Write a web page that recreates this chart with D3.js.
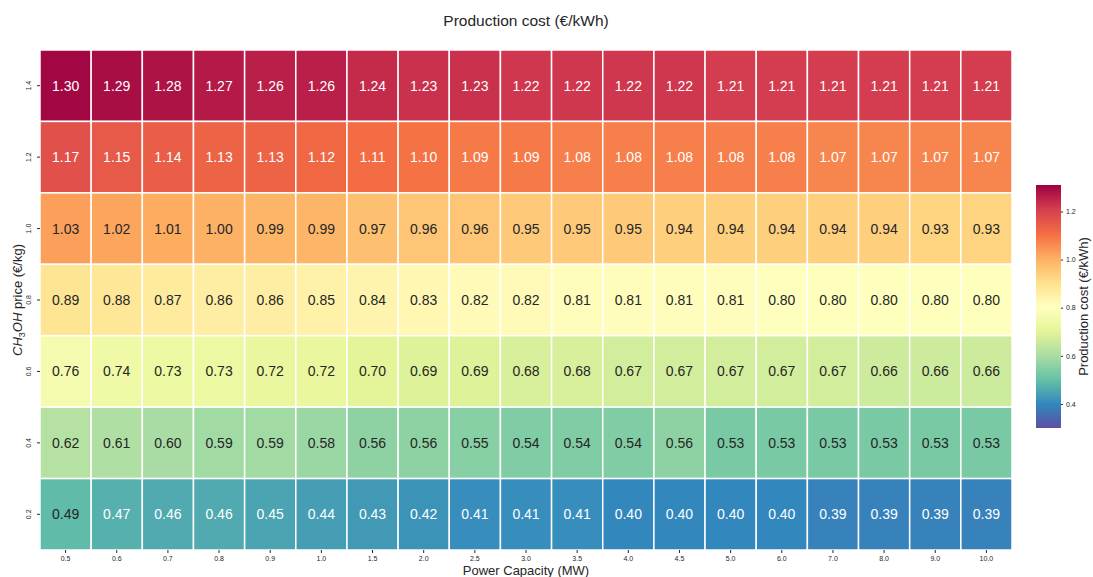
<!DOCTYPE html>
<html>
<head>
<meta charset="utf-8">
<script src="https://cdn.jsdelivr.net/npm/d3@7"></script>
<style>
  body { margin: 0; background: #fff; }
  svg { font-family: "Liberation Sans", Arial, sans-serif; }
</style>
</head>
<body>
<div id="chart"></div>
<script>
// Power capacity (MW) on x, methanol price (€/kg) on y (top row first)
const capacities = ["0.5", "0.6", "0.7", "0.8", "0.9", "1.0", "1.5", "2.0", "2.5", "3.0",
    "3.5", "4.0", "4.5", "5.0", "6.0", "7.0", "8.0", "9.0", "10.0"];
const prices = ["1.4", "1.2", "1.0", "0.8", "0.6", "0.4", "0.2"];

const row14 = [1.30, 1.29, 1.28, 1.27, 1.26, 1.26, 1.24, 1.23, 1.23, 1.22, 1.22, 1.22, 1.22, 1.21, 1.21, 1.21, 1.21, 1.21, 1.21];
const row12 = [1.17, 1.15, 1.14, 1.13, 1.13, 1.12, 1.11, 1.10, 1.09, 1.09, 1.08, 1.08, 1.08, 1.08, 1.08, 1.07, 1.07, 1.07, 1.07];
const row10 = [1.03, 1.02, 1.01, 1.00, 0.99, 0.99, 0.97, 0.96, 0.96, 0.95, 0.95, 0.95, 0.94, 0.94, 0.94, 0.94, 0.94, 0.93, 0.93];
const row08 = [0.89, 0.88, 0.87, 0.86, 0.86, 0.85, 0.84, 0.83, 0.82, 0.82, 0.81, 0.81, 0.81, 0.81, 0.80, 0.80, 0.80, 0.80, 0.80];
const row06 = [0.76, 0.74, 0.73, 0.73, 0.72, 0.72, 0.70, 0.69, 0.69, 0.68, 0.68, 0.67, 0.67, 0.67, 0.67, 0.67, 0.66, 0.66, 0.66];
const row04 = [0.62, 0.61, 0.60, 0.59, 0.59, 0.58, 0.56, 0.56, 0.55, 0.54, 0.54, 0.54, 0.56, 0.53, 0.53, 0.53, 0.53, 0.53, 0.53];
const row02 = [0.49, 0.47, 0.46, 0.46, 0.45, 0.44, 0.43, 0.42, 0.41, 0.41, 0.41, 0.40, 0.40, 0.40, 0.40, 0.39, 0.39, 0.39, 0.39];
const rows = [row14, row12, row10, row08, row06, row04, row02];

const colorTicks = [0.4, 0.6, 0.8, 1.0, 1.2];
const vmin = 0.30, vmax = 1.31;

const W = 1093, H = 577;
const m = { left: 40, top: 50, right: 1012, bottom: 550 };

const svg = d3.select("#chart").append("svg")
    .attr("width", W).attr("height", H);

const x = d3.scaleBand().domain(capacities).range([m.left, m.right]);
const y = d3.scaleBand().domain(prices).range([m.top, m.bottom]);

// reversed Spectral, linear between the 11 anchor colours (like matplotlib)
const spectral = d3.schemeSpectral[11].slice().reverse();
const color = d3.scaleLinear()
    .domain(spectral.map((_, i) => vmin + (vmax - vmin) * i / (spectral.length - 1)))
    .range(spectral)
    .interpolate(d3.interpolateRgb)
    .clamp(true);

const cells = [];
rows.forEach((r, i) => r.forEach((v, j) => cells.push({ p: prices[i], c: capacities[j], v })));

function lum(c) {
    const rgb = d3.rgb(c);
    const f = (u) => { u /= 255; return u <= 0.03928 ? u / 12.92 : Math.pow((u + 0.055) / 1.055, 2.4); };
    return 0.2126 * f(rgb.r) + 0.7152 * f(rgb.g) + 0.0722 * f(rgb.b);
}

const g = svg.append("g");
g.selectAll("rect").data(cells).join("rect")
    .attr("x", (d) => x(d.c))
    .attr("y", (d) => y(d.p))
    .attr("width", x.bandwidth())
    .attr("height", y.bandwidth())
    .attr("fill", (d) => color(d.v))
    .attr("stroke", "#fff")
    .attr("stroke-width", 1.5);

g.selectAll("text").data(cells).join("text")
    .attr("x", (d) => x(d.c) + x.bandwidth() / 2)
    .attr("y", (d) => y(d.p) + y.bandwidth() / 2)
    .attr("text-anchor", "middle")
    .attr("dominant-baseline", "central")
    .attr("font-size", 14)
    .attr("fill", (d) => lum(color(d.v)) > 0.408 ? "#262626" : "#ffffff")
    .text((d) => d.v.toFixed(2));

// x axis
const xAxis = svg.append("g").attr("transform", `translate(0,${m.bottom})`)
    .call(d3.axisBottom(x).tickSize(3).tickPadding(3));
xAxis.select(".domain").remove();
xAxis.selectAll("text").attr("font-size", 7).attr("fill", "#262626")
    .attr("font-family", "Liberation Sans, Arial, sans-serif");
xAxis.selectAll("line").attr("stroke", "#262626");

// y axis, labels rotated
const yAxis = svg.append("g").attr("transform", `translate(${m.left},0)`)
    .call(d3.axisLeft(y).tickSize(3).tickPadding(3));
yAxis.select(".domain").remove();
yAxis.selectAll("line").attr("stroke", "#262626");
yAxis.selectAll("text")
    .attr("font-size", 7).attr("fill", "#262626")
    .attr("font-family", "Liberation Sans, Arial, sans-serif")
    .attr("text-anchor", "middle")
    .attr("x", null).attr("dy", null)
    .attr("transform", "translate(-9,0) rotate(-90)");

// titles
svg.append("text")
    .attr("x", (m.left + m.right) / 2).attr("y", 26)
    .attr("text-anchor", "middle").attr("font-size", 15.5).attr("fill", "#262626")
    .text("Production cost (€/kWh)");

svg.append("text")
    .attr("x", (m.left + m.right) / 2).attr("y", 575)
    .attr("text-anchor", "middle").attr("font-size", 13).attr("fill", "#262626")
    .text("Power Capacity (MW)");

const yl = svg.append("text")
    .attr("transform", `translate(22,${(m.top + m.bottom) / 2}) rotate(-90)`)
    .attr("text-anchor", "middle").attr("font-size", 13).attr("fill", "#262626");
yl.append("tspan").attr("font-style", "italic").text("CH");
yl.append("tspan").attr("font-size", 9).attr("dy", 3).text("3");
yl.append("tspan").attr("font-style", "italic").attr("dy", -3).text("OH");
yl.append("tspan").text(" price (€/kg)");

// colour bar
const cb = { x: 1036, w: 25, top: 185, bottom: 428 };
const cy = d3.scaleLinear().domain([vmin, vmax]).range([cb.bottom, cb.top]);

const grad = svg.append("defs").append("linearGradient")
    .attr("id", "cbar").attr("x1", 0).attr("y1", 1).attr("x2", 0).attr("y2", 0);
grad.selectAll("stop").data(spectral).join("stop")
    .attr("offset", (_, i) => i / (spectral.length - 1))
    .attr("stop-color", (d) => d);

svg.append("rect")
    .attr("x", cb.x).attr("y", cb.top)
    .attr("width", cb.w).attr("height", cb.bottom - cb.top)
    .attr("fill", "url(#cbar)");

const cAxis = svg.append("g").attr("transform", `translate(${cb.x + cb.w},0)`)
    .call(d3.axisRight(cy).tickValues(colorTicks).tickFormat(d3.format(".1f")).tickSize(2).tickPadding(3));
cAxis.select(".domain").remove();
cAxis.selectAll("line").attr("stroke", "#262626");
cAxis.selectAll("text").attr("font-size", 7).attr("fill", "#262626")
    .attr("font-family", "Liberation Sans, Arial, sans-serif");

svg.append("text")
    .attr("transform", `translate(1088,${(cb.top + cb.bottom) / 2}) rotate(-90)`)
    .attr("text-anchor", "middle").attr("font-size", 13).attr("fill", "#262626")
    .text("Production cost (€/kWh)");
</script>
</body>
</html>
